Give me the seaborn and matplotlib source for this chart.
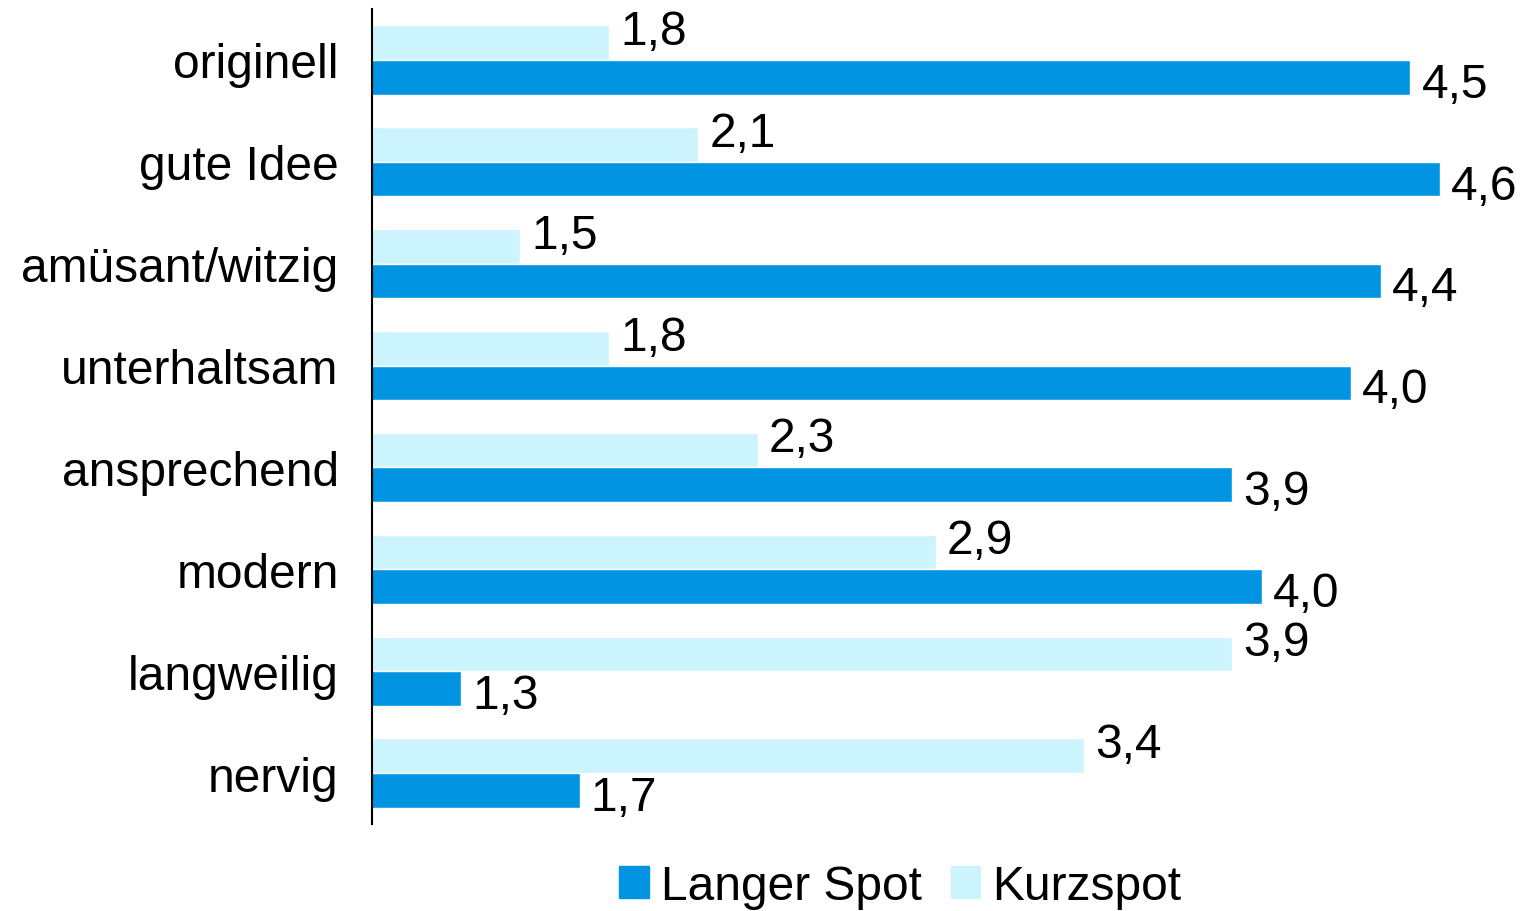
import pandas as pd
import matplotlib
matplotlib.use("Agg")
import matplotlib.pyplot as plt
import seaborn as sns
from matplotlib.patches import Patch

categories = ["originell", "gute Idee", "amüsant/witzig", "unterhaltsam",
              "ansprechend", "modern", "langweilig", "nervig"]
langer = [4.5, 4.6, 4.4, 4.3, 3.9, 4.0, 1.3, 1.7]
kurz = [1.8, 2.1, 1.5, 1.8, 2.3, 2.9, 3.9, 3.4]
langer_labels = ["4,5", "4,6", "4,4", "4,0", "3,9", "4,0", "1,3", "1,7"]
kurz_labels = ["1,8", "2,1", "1,5", "1,8", "2,3", "2,9", "3,9", "3,4"]

c_langer = "#0094e2"
c_kurz = "#ccf4ff"

df = pd.DataFrame({
    "Merkmal": categories * 2,
    "Wert": kurz + langer,
    "Serie": ["Kurzspot"] * len(categories) + ["Langer Spot"] * len(categories),
})

sns.set_style("white")
plt.rcParams["font.family"] = ["Liberation Sans", "DejaVu Sans"]
plt.rcParams["text.color"] = "black"

fs = 34.5

fig = plt.figure(figsize=(15.26, 9.12), dpi=100)
ax = fig.add_axes([0.2438, 0.0954, 0.7562, 0.8937])

sns.barplot(data=df, y="Merkmal", x="Wert", hue="Serie", orient="h",
            hue_order=["Kurzspot", "Langer Spot"],
            palette={"Kurzspot": c_kurz, "Langer Spot": c_langer},
            width=0.68, errorbar=None, legend=False, ax=ax, saturation=1)

ax.set_xlim(1, 4.89)
ax.set_ylim(7.5, -0.5)
ax.set_xlabel("")
ax.set_ylabel("")
ax.set_xticks([])
for s in ["top", "right", "bottom"]:
    ax.spines[s].set_visible(False)
ax.spines["left"].set_color("black")
ax.spines["left"].set_linewidth(1.5)
ax.tick_params(axis="y", length=0, pad=24, labelsize=fs, labelcolor="black")

# value labels: Kurzspot slightly above, Langer Spot slightly below
for cont, labs, dy in zip(ax.containers, [kurz_labels, langer_labels], [8, -5]):
    for bar, lab in zip(cont, labs):
        x = bar.get_x() + bar.get_width()
        y = bar.get_y() + bar.get_height() / 2
        ax.annotate(lab, (x, y), xytext=(8, dy), textcoords="offset points",
                    ha="left", va="center", fontsize=fs, color="black",
                    annotation_clip=False)

handles = [Patch(color=c_langer, label="Langer Spot"),
           Patch(color=c_kurz, label="Kurzspot")]
fig.legend(handles=handles, loc="center", bbox_to_anchor=(0.59, 0.027),
           ncol=2, frameon=False, fontsize=fs, handlelength=0.62,
           handleheight=0.62, handletextpad=0.25, columnspacing=0.6,
           borderaxespad=0, labelcolor="black")

fig.savefig("out.png", dpi=100)
